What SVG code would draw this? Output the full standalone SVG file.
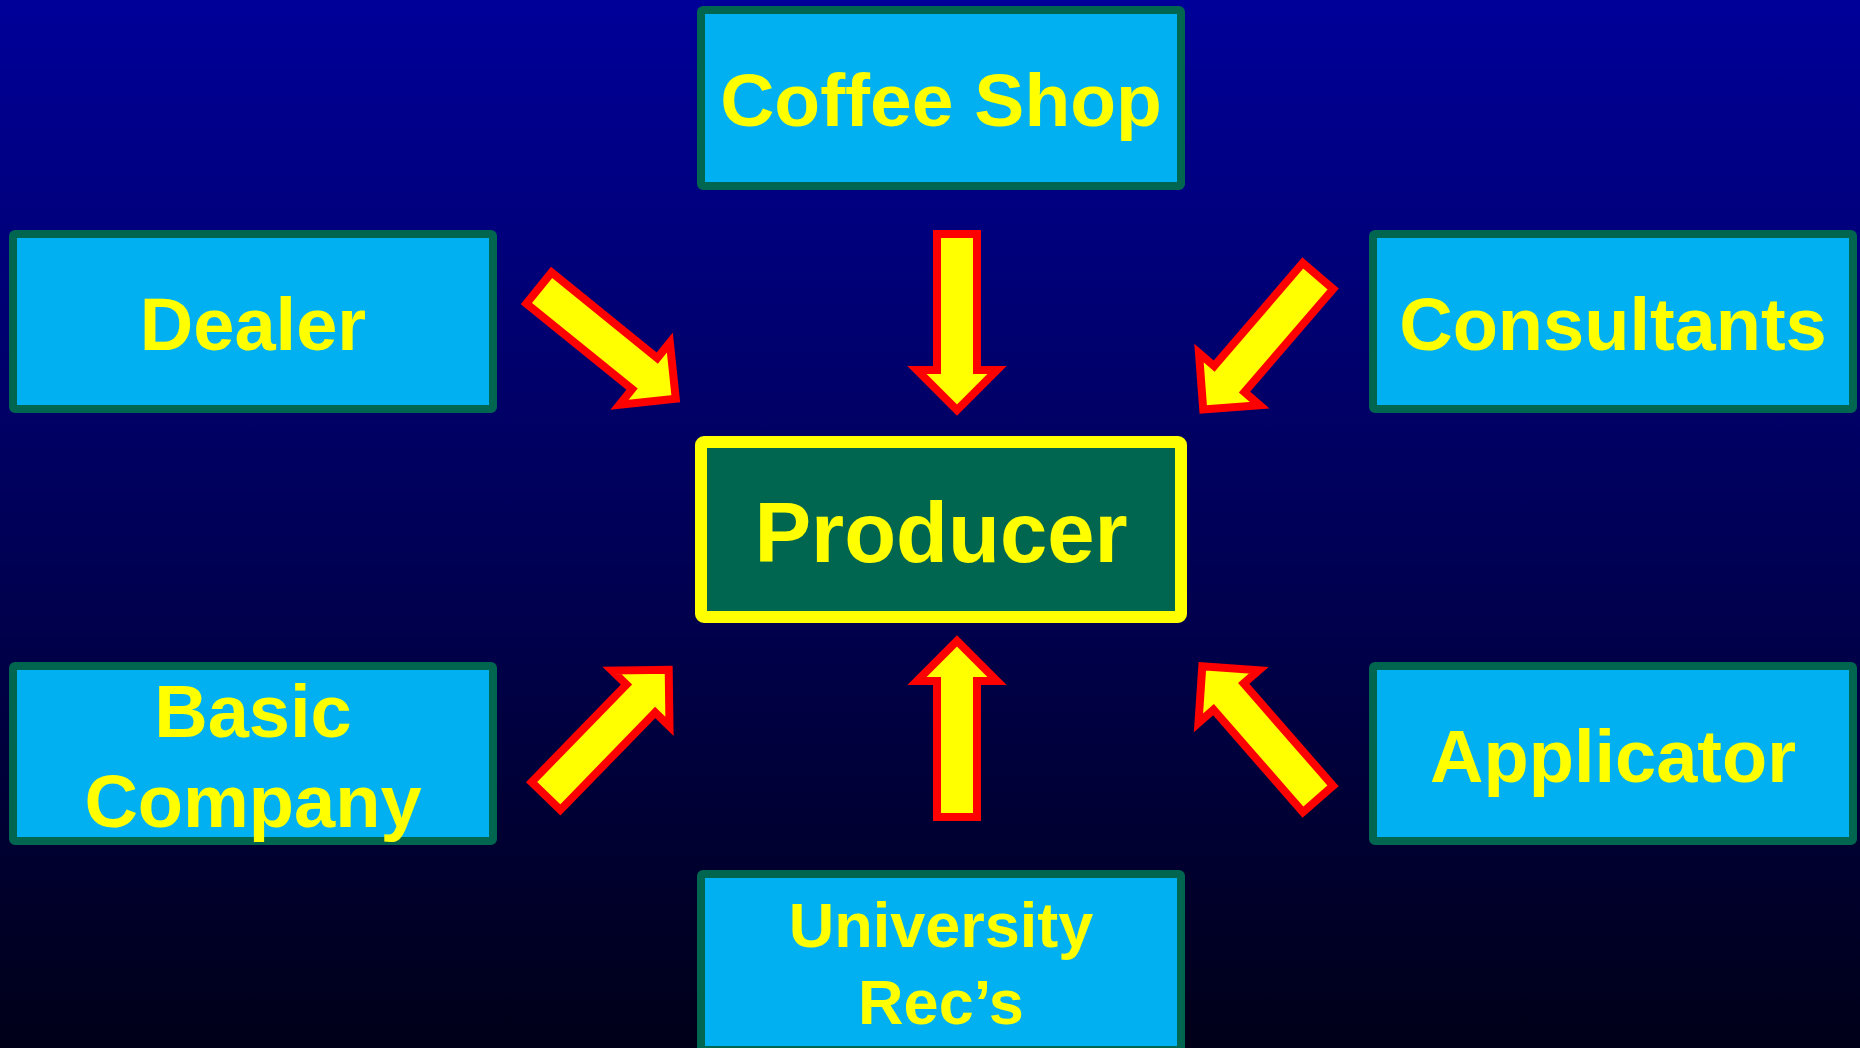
<svg xmlns="http://www.w3.org/2000/svg" xmlns:xlink="http://www.w3.org/1999/xlink" width="1860" height="1048" viewBox="0 0 1860 1048">
<style>
.box{fill:#00B0F0;stroke:#00664F;stroke-width:8;}
.center{fill:#00664F;stroke:#FFFF00;stroke-width:12;}
.lbl{font-family:"Liberation Sans",Arial,sans-serif;font-weight:bold;fill:#FFFF00;text-anchor:middle;}
.arrow{fill:#FFFF00;stroke:#FF0000;stroke-width:8;stroke-linejoin:miter;stroke-miterlimit:10;}
</style>
<defs>
<linearGradient id="bg" x1="0" y1="0" x2="0" y2="1">
<stop offset="0" stop-color="#000099"/>
<stop offset="1" stop-color="#000018"/>
</linearGradient>
<polygon id="arr" class="arrow" points="-20,0 20,0 20,136 40,136 0,176 -40,136 -20,136"/>
</defs>
<rect x="0" y="0" width="1860" height="1048" fill="url(#bg)"/>

<g id="connectors">
<use xlink:href="#arr" transform="translate(957,234)"/>
<use xlink:href="#arr" transform="translate(957,817) rotate(180)"/>
<use xlink:href="#arr" transform="translate(539,288) rotate(-51)"/>
<use xlink:href="#arr" transform="translate(1318,276) rotate(40.7)"/>
<use xlink:href="#arr" transform="translate(546,796) rotate(-135.8)"/>
<use xlink:href="#arr" transform="translate(1318,799) rotate(138.9)"/>
</g>

<g id="coffee-shop">
<rect class="box" x="701" y="10" width="480" height="176" rx="2"/>
<text class="lbl" x="941" y="126" font-size="75">Coffee Shop</text>
</g>
<g id="dealer">
<rect class="box" x="13" y="234" width="480" height="175" rx="2"/>
<text class="lbl" x="253" y="350" font-size="74">Dealer</text>
</g>
<g id="consultants">
<rect class="box" x="1373" y="234" width="480" height="175" rx="2"/>
<text class="lbl" x="1613" y="350" font-size="74">Consultants</text>
</g>
<g id="producer">
<rect class="center" x="701" y="442" width="480" height="175" rx="3"/>
<text class="lbl" x="941" y="562" font-size="85">Producer</text>
</g>
<g id="basic-company">
<rect class="box" x="13" y="666" width="480" height="175" rx="2"/>
<text class="lbl" x="253" y="737" font-size="74">Basic</text>
<text class="lbl" x="253" y="827" font-size="74">Company</text>
</g>
<g id="applicator">
<rect class="box" x="1373" y="666" width="480" height="175" rx="2"/>
<text class="lbl" x="1613" y="782" font-size="74">Applicator</text>
</g>
<g id="university-recs">
<rect class="box" x="701" y="874" width="480" height="176" rx="2"/>
<text class="lbl" x="941" y="947" font-size="63">University</text>
<text class="lbl" x="941" y="1024" font-size="63">Rec’s</text>
</g>
</svg>
